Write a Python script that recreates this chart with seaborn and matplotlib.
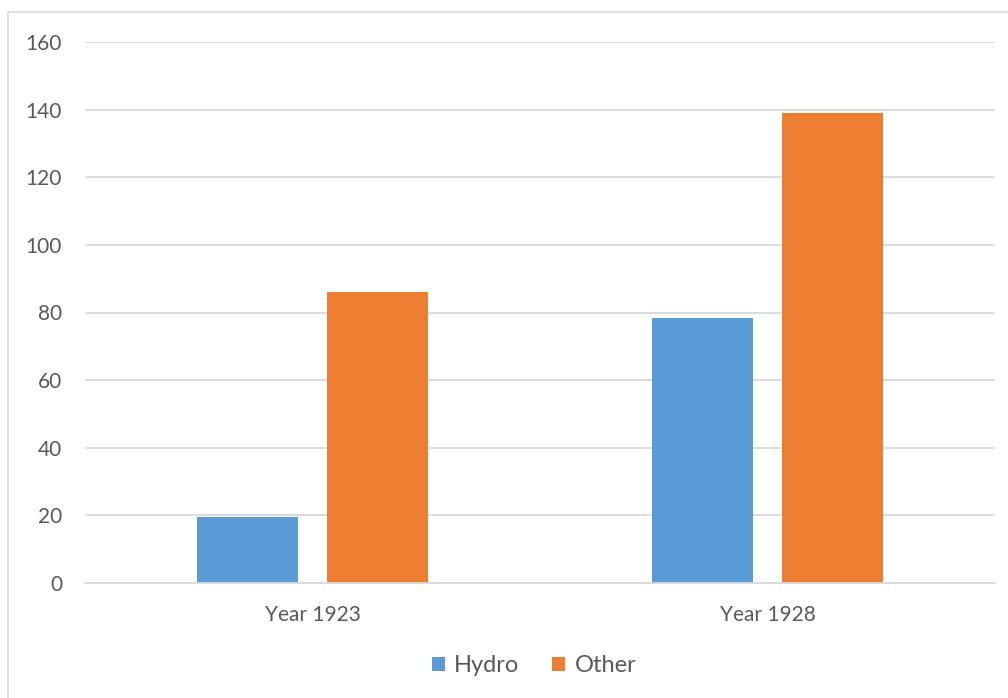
import matplotlib
matplotlib.use("Agg")
import matplotlib.pyplot as plt
from matplotlib.lines import Line2D
from matplotlib.patches import Patch
import seaborn as sns
import pandas as pd

# Power output by source
categories = ["Year 1923", "Year 1928"]
hydro = [19.4, 78.4]
other = [86.0, 139.1]
series_names = ["Hydro", "Other"]
colors = ["#5B9BD5", "#ED7D31"]

df = pd.DataFrame({
    "year": categories * 2,
    "value": hydro + other,
    "source": [series_names[0]] * len(categories) + [series_names[1]] * len(categories),
})

sns.set_style("white")
plt.rcParams["font.family"] = ["Lato", "DejaVu Sans"]
text_color = "#595959"
grid_color = "#D9D9D9"

fig = plt.figure(figsize=(10.08, 6.98), dpi=100)
ax = fig.add_axes([85 / 1008, 1 - 583 / 698, 910 / 1008, 541 / 698])

sns.barplot(data=df, x="year", y="value", hue="source", palette=colors,
            width=0.57, gap=0.22, ax=ax, legend=False, saturation=1,
            edgecolor="none")

ax.set_xlim(-0.5, 1.5)
ax.set_ylim(0, 160)
ax.set_yticks(range(0, 161, 20))
ax.set_xlabel("")
ax.set_ylabel("")
ax.yaxis.grid(True, color=grid_color, linewidth=1.3)
ax.set_axisbelow(True)
for side in ["left", "right", "top"]:
    ax.spines[side].set_visible(False)
ax.spines["bottom"].set_color(grid_color)
ax.spines["bottom"].set_linewidth(1.3)
ax.tick_params(axis="y", length=0, pad=16.5, labelsize=15, labelcolor=text_color)
ax.tick_params(axis="x", length=0, pad=16, labelsize=15, labelcolor=text_color)

# Outer chart frame
fig.add_artist(Line2D([8 / 1008, 8 / 1008], [0, 1 - 12 / 698], color=grid_color,
                      linewidth=1.2, transform=fig.transFigure))
fig.add_artist(Line2D([8 / 1008, 1], [1 - 12 / 698, 1 - 12 / 698], color=grid_color,
                      linewidth=1.2, transform=fig.transFigure))

handles = [Patch(facecolor=c, edgecolor="none", label=n) for c, n in zip(colors, series_names)]
fig.legend(handles=handles, loc="center", bbox_to_anchor=(534 / 1008, 1 - 666 / 698),
           ncol=2, frameon=False, fontsize=17, labelcolor=text_color,
           handlelength=0.55, handleheight=0.55, handletextpad=0.4, columnspacing=1.4)

fig.savefig("out.png", dpi=100)
